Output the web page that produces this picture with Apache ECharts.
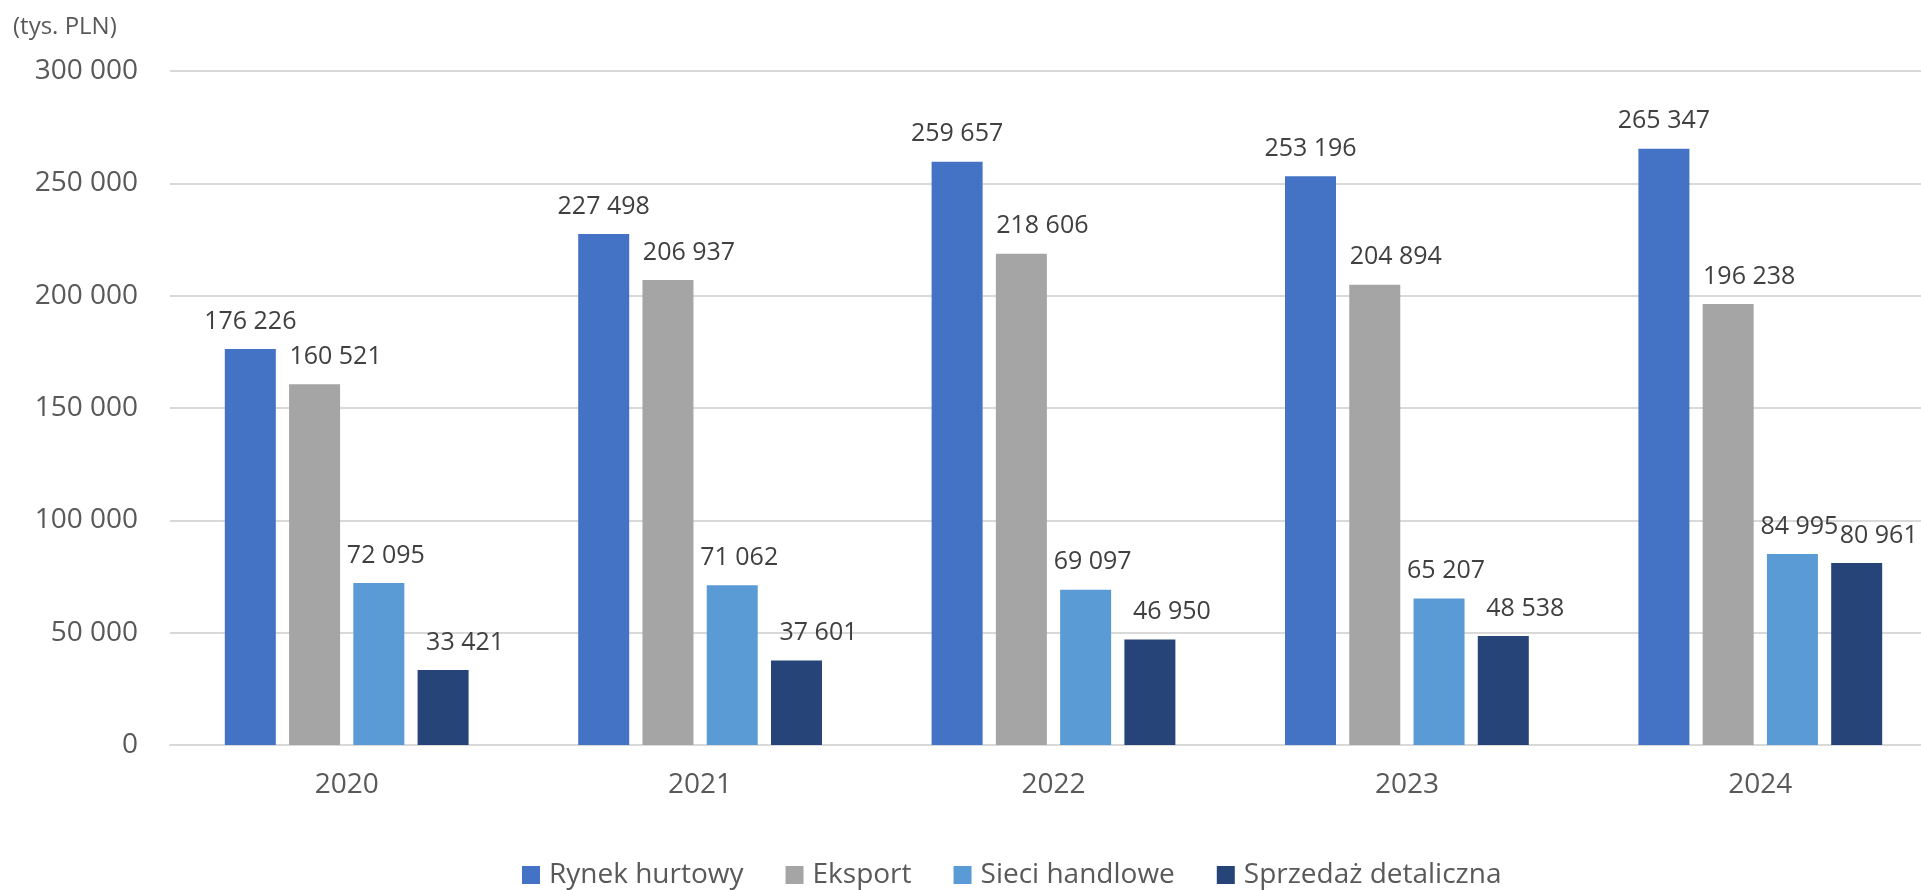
<!DOCTYPE html>
<html>
<head>
<meta charset="utf-8">
<script src="https://cdn.jsdelivr.net/npm/echarts@6/dist/echarts.min.js"></script>
<style>
html,body{margin:0;padding:0;background:#fff;overflow:hidden;width:1921px;height:890px;}
#chart{width:1940px;height:890px;}
</style>
</head>
<body>
<div id="chart"></div>
<script>
const categories = ['2020', '2021', '2022', '2023', '2024'];
const seriesNames = ['Rynek hurtowy', 'Eksport', 'Sieci handlowe', 'Sprzedaż detaliczna'];
const rynekHurtowy = [176226, 227498, 259657, 253196, 265347];
const eksport = [160521, 206937, 218606, 204894, 196238];
const sieciHandlowe = [72095, 71062, 69097, 65207, 84995];
const sprzedazDetaliczna = [33421, 37601, 46950, 48538, 80961];
const colors = ['#4472C4', '#A5A5A5', '#5B9BD5', '#264478'];
const unitLabel = '(tys. PLN)';
// style: legend text widths and per-series horizontal label shifts (px)
const legendTextWidths = [193, 95, 191, 252];
const labelShiftX = [0, 21, 7, 22];

const FONT = '"Open Sans", "Noto Sans", sans-serif';
const fmt = v => String(Math.round(v)).replace(/\B(?=(\d{3})+(?!\d))/g, ' ');

const allData = [rynekHurtowy, eksport, sieciHandlowe, sprzedazDetaliczna];

const chart = echarts.init(document.getElementById('chart'), null, {renderer: 'canvas'});
chart.setOption({
  animation: false,
  backgroundColor: '#ffffff',
  color: colors,
  title: {
    text: unitLabel,
    left: 8,
    top: 10,
    textStyle: {fontFamily: FONT, fontSize: 24, fontWeight: 'normal', color: '#595959'}
  },
  grid: {left: 170, right: 3, top: 71, bottom: 145, containLabel: false, outerBoundsMode: 'none'},
  legend: {
    data: seriesNames.map((n, i) => ({name: n, textStyle: {width: legendTextWidths[i]}})),
    left: 522,
    top: 857,
    padding: 0,
    itemWidth: 18,
    itemHeight: 18,
    itemGap: 42,
    icon: 'rect',
    textStyle: {fontFamily: FONT, fontSize: 28, color: '#595959', lineHeight: 36, padding: [0, 0, 0, 4]}
  },
  xAxis: {
    type: 'category',
    data: categories,
    axisLine: {show: true, lineStyle: {color: '#d9d9d9', width: 2}},
    axisTick: {show: false},
    axisLabel: {fontFamily: FONT, fontSize: 28, color: '#595959', margin: 26}
  },
  yAxis: {
    type: 'value',
    min: 0,
    max: 300000,
    interval: 50000,
    axisLine: {show: false},
    axisTick: {show: false},
    splitLine: {lineStyle: {color: '#d9d9d9', width: 2}},
    axisLabel: {fontFamily: FONT, fontSize: 28, color: '#595959', margin: 32, formatter: fmt}
  },
  series: seriesNames.map((name, i) => ({
    name: name,
    type: 'bar',
    data: allData[i],
    barWidth: 51,
    barGap: '26%',
    itemStyle: {color: colors[i]},
    label: {
      show: true,
      position: 'top',
      distance: 15,
      offset: [labelShiftX[i], 0],
      fontFamily: FONT,
      fontSize: 25,
      color: '#404040',
      formatter: p => fmt(p.value)
    }
  }))
});
</script>
</body>
</html>
